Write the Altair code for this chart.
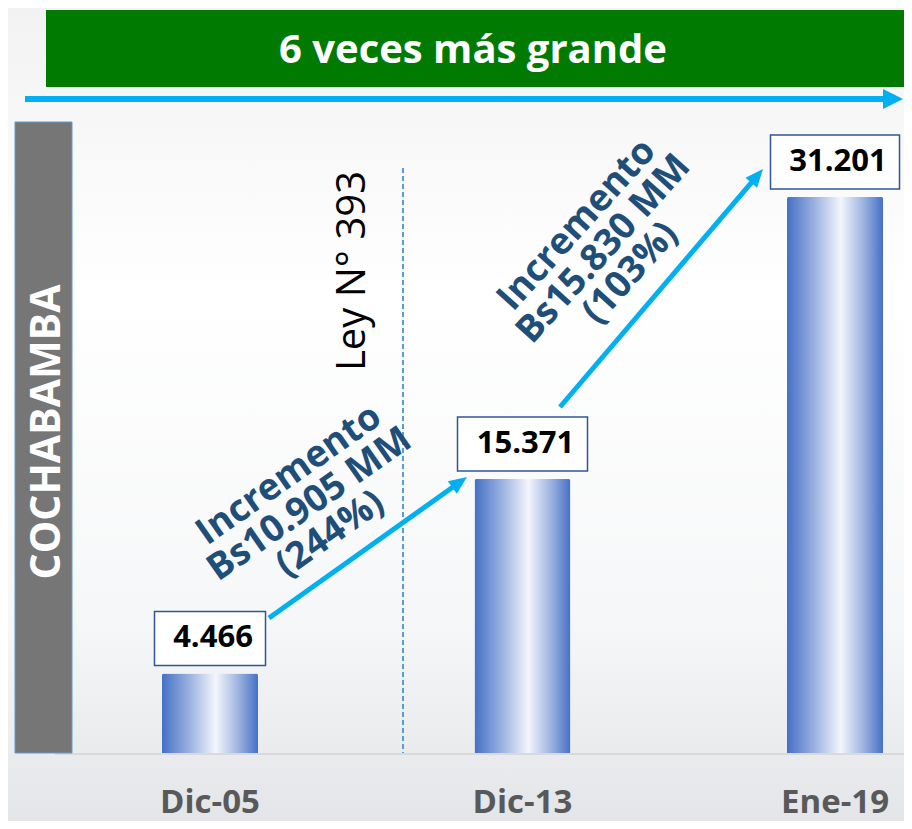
import math
import altair as alt
import pandas as pd

# ---------------- data ----------------
categories = ["Dic-05", "Dic-13", "Ene-19"]
values = [4466, 15371, 31201]
value_labels = ["4.466", "15.371", "31.201"]
increment_1 = ["Incremento", "Bs10.905 MM", "(244%)"]
increment_2 = ["Incremento", "Bs15.830 MM", "(103%)"]
banner_text = "6 veces más grande"
side_text = "COCHABAMBA"
law_text = "Ley N° 393"

# ---------------- layout / style ----------------
W, H, PB = 896, 745, 68          # plot width/height, bottom padding
CYAN = "#00B0F0"
NAVY = "#1F4E79"
BOX_W = {"Dic-05": 111, "Dic-13": 130, "Ene-19": 129}


def px(v):
    """page pixel -> chart pixel (page has an 8px margin)"""
    return v - 8


df = pd.DataFrame({"periodo": categories, "valor": values, "etiqueta": value_labels})
one = pd.DataFrame({"k": [0]})

x_enc = alt.X(
    "periodo:N",
    sort=categories,
    title=None,
    scale=alt.Scale(paddingInner=0.6928, paddingOuter=0.28, align=0.88),
    axis=alt.Axis(
        labelAngle=0, domain=False, ticks=False, tickSize=0, grid=False,
        labelFont="Open Sans", labelFontSize=33, labelFontWeight="bold",
        labelColor="#595959", labelPadding=59, labelBaseline="alphabetic",
        zindex=1,
    ),
)
y_enc = alt.Y("valor:Q", scale=alt.Scale(domain=[0, 41800], nice=False), axis=None)

# background
bg = alt.Chart(one).mark_rect(
    fill=alt.Gradient(
        gradient="linear", x1=0, x2=0, y1=0, y2=1,
        stops=[
            alt.GradientStop(offset=0, color="#F2F2F3"),
            alt.GradientStop(offset=0.35, color="#FFFFFF"),
            alt.GradientStop(offset=0.75, color="#F6F7F8"),
            alt.GradientStop(offset=1, color="#E3E5E8"),
        ],
    )
).encode(x=alt.value(0), x2=alt.value(W), y=alt.value(0), y2=alt.value(H + PB))

# grey side bar
side_bar = alt.Chart(one).mark_rect(fill="#767676", stroke="#5B9BD5", strokeWidth=1).encode(
    x=alt.value(px(15)), x2=alt.value(px(72)), y=alt.value(px(122)), y2=alt.value(px(753))
)
side_label = alt.Chart(one).mark_text(
    text=side_text, font="Open Sans", fontSize=41, fontWeight="bold", color="white",
    angle=270, align="center", baseline="alphabetic",
).encode(x=alt.value(px(60)), y=alt.value(px(432)))

# green banner
banner = alt.Chart(one).mark_rect(fill="#007A00").encode(
    x=alt.value(px(46)), x2=alt.value(W), y=alt.value(px(10)), y2=alt.value(px(87))
)
banner_label = alt.Chart(one).mark_text(
    text=banner_text, font="Open Sans", fontSize=40, fontWeight="bold", color="white",
    align="center", baseline="alphabetic",
).encode(x=alt.value(px(473)), y=alt.value(px(63)))


def arrow(x1, y1, x2, y2, width, head, half=0.85):
    ang = math.degrees(math.atan2(y2 - y1, x2 - x1)) % 360
    L = math.hypot(x2 - x1, y2 - y1)
    ux, uy = (x2 - x1) / L, (y2 - y1) / L
    cx, cy = x2 - ux * head / 2, y2 - uy * head / 2
    shaft = alt.Chart(one).mark_rule(color=CYAN, strokeWidth=width, strokeCap="butt").encode(
        x=alt.value(x1), y=alt.value(y1), x2=alt.value(cx), y2=alt.value(cy)
    )
    tip = alt.Chart(one).mark_point(
        shape=f"M1,0L-1,-{half}L-1,{half}Z", size=head * head, angle=ang,
        filled=True, fill=CYAN, opacity=1, strokeWidth=0,
    ).encode(x=alt.value(cx), y=alt.value(cy))
    return [shaft, tip]


top_arrow = arrow(px(25), px(99), W - 1, px(99), 6, 20, 1.0)
arrow_1 = arrow(px(269), px(618), px(467), px(477), 5, 18)
arrow_2 = arrow(px(560), px(407), px(763), px(169), 5, 18)

# baseline and law divider
baseline = alt.Chart(one).mark_rule(color="#D9D9D9", strokeWidth=2).encode(
    x=alt.value(px(55)), x2=alt.value(W), y=alt.value(H + 1)
)
divider = alt.Chart(one).mark_rule(color="#5B9BD5", strokeWidth=2, strokeDash=[5, 3]).encode(
    x=alt.value(px(403)), y=alt.value(px(168)), y2=alt.value(H)
)
law_label = alt.Chart(one).mark_text(
    text=law_text, font="Open Sans", fontSize=40, color="black",
    angle=270, align="center", baseline="alphabetic",
).encode(x=alt.value(px(365)), y=alt.value(px(271)))

# bars
bar_fill = alt.Gradient(
    gradient="linear", x1=0, x2=1, y1=0, y2=0,
    stops=[
        alt.GradientStop(offset=0, color="#4470C6"),
        alt.GradientStop(offset=0.3, color="#9FB5E1"),
        alt.GradientStop(offset=0.56, color="#F3F6FC"),
        alt.GradientStop(offset=0.8, color="#9CB2DF"),
        alt.GradientStop(offset=1, color="#4470C6"),
    ],
)
bars = alt.Chart(df).mark_bar(
    fill=bar_fill, cornerRadiusTopLeft=2, cornerRadiusTopRight=2
).encode(x=x_enc, y=y_enc)

boxes = []
for cat, w in BOX_W.items():
    boxes.append(
        alt.Chart(df).transform_filter(alt.datum.periodo == cat).mark_bar(
            width=w, fill="white", stroke="#2F5597", strokeWidth=1.5,
            yOffset=-62, y2Offset=-8,
        ).encode(
            x=alt.X("periodo:N", sort=categories),
            y=alt.Y("valor:Q"),
            y2="valor:Q",
        )
    )

value_text = alt.Chart(df).mark_text(
    font="Open Sans", fontSize=31, fontWeight="bold", color="black",
    dy=-35, dx=3, baseline="middle", align="center",
).encode(x=alt.X("periodo:N", sort=categories), y=alt.Y("valor:Q"), text="etiqueta:N")

# rotated annotations (anchored at the first line's centre)
inc_1 = alt.Chart(one).mark_text(
    text="\n".join(increment_1), lineBreak="\n", lineHeight=36,
    font="Open Sans", fontSize=37, fontWeight="bold", color=NAVY,
    angle=325, align="center", baseline="middle",
).encode(x=alt.value(px(289)), y=alt.value(px(475)))
inc_2 = alt.Chart(one).mark_text(
    text="\n".join(increment_2), lineBreak="\n", lineHeight=36,
    font="Open Sans", fontSize=37, fontWeight="bold", color=NAVY,
    angle=312, align="center", baseline="middle",
).encode(x=alt.value(px(577)), y=alt.value(px(225)))

chart = alt.layer(
    bg, baseline, side_bar, side_label, banner, banner_label, *top_arrow,
    divider, law_label, bars, *boxes, value_text, *arrow_1, *arrow_2, inc_1, inc_2,
).properties(
    width=W, height=H, autosize=alt.AutoSizeParams(type="none"),
    padding={"left": 0, "top": 0, "right": 0, "bottom": PB},
    background="white",
).configure_view(stroke=None)

chart.save("out.html", embed_options={"renderer": "svg", "actions": False})
